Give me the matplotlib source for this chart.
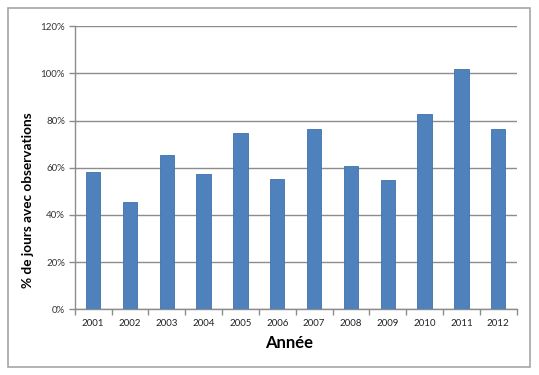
import matplotlib
matplotlib.use("Agg")
import matplotlib.pyplot as plt
from matplotlib.patches import Rectangle
from matplotlib.ticker import FuncFormatter, FixedLocator
import numpy as np

years = ["2001", "2002", "2003", "2004", "2005", "2006",
         "2007", "2008", "2009", "2010", "2011", "2012"]
values = [58.1, 45.4, 65.3, 57.5, 74.9, 55.3, 76.3, 60.8, 54.8, 82.7, 101.9, 76.3]
yticks = [0, 20, 40, 60, 80, 100, 120]

plt.rcParams['font.family'] = ['Lato', 'DejaVu Sans']

W, H = 539, 375
fig = plt.figure(figsize=(W/100, H/100), dpi=100)
fig.patch.set_facecolor('white')

# outer frame
fig.patches.append(Rectangle((8/W, 1 - 367/H), (530-8)/W, (367-8)/H,
                             transform=fig.transFigure, fill=False,
                             edgecolor='#a6a6a6', linewidth=1.2))

left, right, top, bottom = 74.7, 516.7, 26.3, 309.3
ax = fig.add_axes([left/W, 1 - bottom/H, (right-left)/W, (bottom-top)/H])

x = np.arange(len(years))
ax.bar(x, values, width=0.39, color='#4f81bd', edgecolor='#3f71ad', linewidth=0.6, zorder=3)

ax.set_xlim(-0.5, len(years) - 0.5)
ax.set_ylim(0, 120)
ax.yaxis.set_major_locator(FixedLocator(yticks))
ax.yaxis.set_major_formatter(FuncFormatter(lambda v, p: f"{int(v)}%"))
ax.grid(axis='y', color='#8c8c8c', linewidth=1.0, zorder=0)

ax.set_xticks(x)
ax.set_xticklabels(years)
ax.set_xticks(np.arange(-0.5, len(years)), minor=True)
ax.tick_params(axis='x', which='major', length=0, labelsize=7, pad=7, colors='#222222')
ax.tick_params(axis='x', which='minor', length=4, color='#8c8c8c', width=1.0)
ax.tick_params(axis='y', which='major', length=4, color='#8c8c8c', width=1.0,
               labelsize=7, pad=3, labelcolor='#333333')

for s in ['top', 'right']:
    ax.spines[s].set_visible(False)
for s in ['left', 'bottom']:
    ax.spines[s].set_color('#8c8c8c')
    ax.spines[s].set_linewidth(1.0)

fig.text(28/W, 1 - 200/H, "% de jours avec observations", rotation=90,
         ha='center', va='center', fontsize=9.8, fontweight='bold')
fig.text(289/W, 1 - 343/H, "Année", ha='center', va='center',
         fontsize=12, fontweight='bold')

fig.savefig("out.png", dpi=100, facecolor='white')
